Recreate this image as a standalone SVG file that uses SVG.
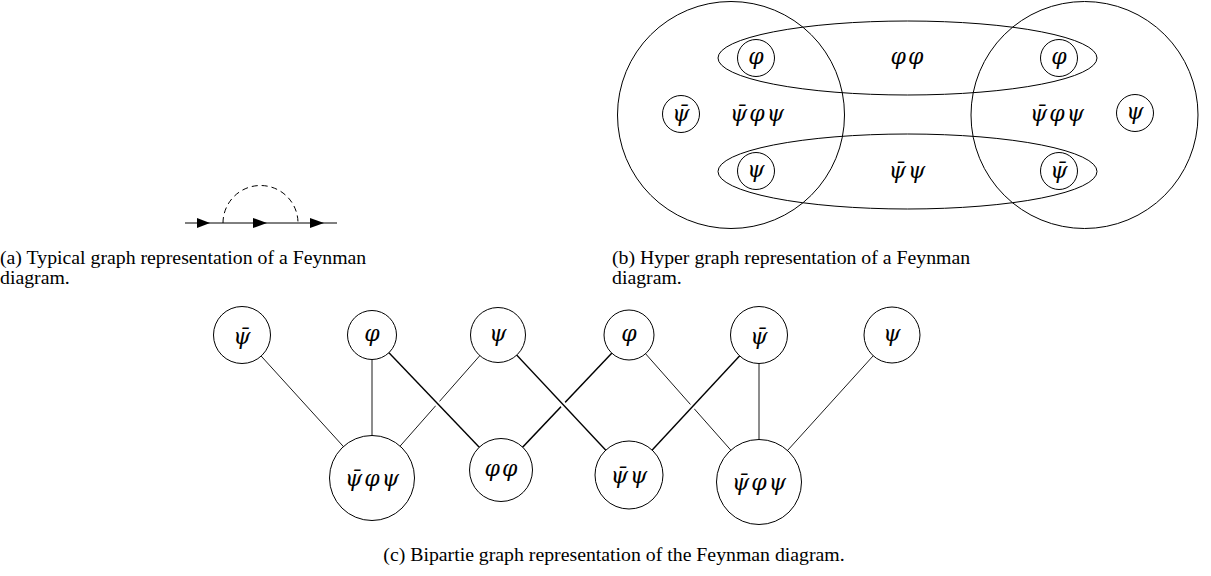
<svg xmlns="http://www.w3.org/2000/svg" width="1211" height="576" viewBox="0 0 1211 576">
<style>
.bg{fill:#fff}
.c{fill:#fff;stroke:#000;stroke-width:1}
.h{fill:none;stroke:#000;stroke-width:1}
.m{font-family:"DejaVu Serif","Liberation Serif",serif;font-style:italic;font-size:22px;text-anchor:middle;fill:#000}
.w{letter-spacing:2px}
.cap{font-family:"Liberation Serif","Times New Roman",serif;font-size:19.8px;fill:#000}
.thin{stroke:#000;stroke-width:0.9}
.thick{stroke:#000;stroke-width:1.4}
.halo{stroke:#fff;stroke-width:6}
</style>
<rect class="bg" x="0" y="0" width="1211" height="576"/>

<!-- (a) Feynman graph -->
<g id="feynman">
  <path d="M223,223 A37.5,37.5 0 0 1 298,223" fill="none" stroke="#000" stroke-width="1" stroke-dasharray="6 4"/>
  <line x1="185" y1="223" x2="337" y2="223" stroke="#000" stroke-width="1"/>
  <polygon points="197,218 210,223 197,228" fill="#000"/>
  <polygon points="253,218 267,223 253,228" fill="#000"/>
  <polygon points="310,218 324,223 310,228" fill="#000"/>
</g>
<text class="cap" x="0" y="264">(a) Typical graph representation of a Feynman</text>
<text class="cap" x="0" y="284">diagram.</text>

<!-- (b) Hypergraph -->
<g id="hyper-edges">
  <circle class="h" cx="731" cy="115" r="113.5"/>
  <circle class="h" cx="1084.5" cy="115" r="113.5"/>
  <ellipse class="h" cx="907.5" cy="58" rx="189.5" ry="37"/>
  <ellipse class="h" cx="907.5" cy="171.5" rx="189.5" ry="37.5"/>
</g>
<g id="h-psibar-left"><circle class="h" cx="681" cy="114" r="18.5"/><text class="m" x="681" y="121">ψ̄</text></g>
<g id="h-phi-tl"><circle class="h" cx="756" cy="58" r="18.5"/><text class="m" x="756" y="64">φ</text></g>
<g id="h-psi-bl"><circle class="h" cx="756" cy="171" r="18.5"/><text class="m" x="756" y="177">ψ</text></g>
<g id="h-phi-tr"><circle class="h" cx="1059" cy="58" r="18.5"/><text class="m" x="1059" y="64">φ</text></g>
<g id="h-psibar-br"><circle class="h" cx="1059" cy="171" r="18.5"/><text class="m" x="1059" y="178">ψ̄</text></g>
<g id="h-psi-right"><circle class="h" cx="1135" cy="113" r="18.5"/><text class="m" x="1135" y="119">ψ</text></g>
<text class="m w" x="758" y="121">ψ̄φψ</text>
<text class="m w" x="1058" y="121">ψ̄φψ</text>
<text class="m w" x="908" y="64">φφ</text>
<text class="m w" x="908" y="178">ψ̄ψ</text>
<text class="cap" x="612" y="264">(b) Hyper graph representation of a Feynman</text>
<text class="cap" x="612" y="284">diagram.</text>

<!-- (c) Bipartite graph -->
<g id="connectors">
  <line class="thin" x1="242" y1="335" x2="372" y2="478"/>
  <line class="thin" x1="372" y1="335" x2="372" y2="478"/>
  <line class="thin" x1="498" y1="335" x2="372" y2="478"/>
  <line class="thick" x1="629" y1="335" x2="501" y2="470"/>
  <line class="thin" x1="629" y1="335" x2="759" y2="482"/>
  <line class="thin" x1="759" y1="335" x2="759" y2="482"/>
  <line class="thin" x1="892" y1="335" x2="759" y2="482"/>
  <line class="halo" x1="372" y1="335" x2="501" y2="470"/>
  <line class="thick" x1="372" y1="335" x2="501" y2="470"/>
  <line class="halo" x1="498" y1="335" x2="629" y2="475"/>
  <line class="thick" x1="498" y1="335" x2="629" y2="475"/>
  <line class="halo" x1="759" y1="335" x2="629" y2="475"/>
  <line class="thick" x1="759" y1="335" x2="629" y2="475"/>
</g>
<g id="t-psibar1"><circle class="c" cx="242" cy="335" r="28.5"/><text class="m" x="242" y="344">ψ̄</text></g>
<g id="t-phi1"><circle class="c" cx="372" cy="335" r="24.5"/><text class="m" x="372" y="341">φ</text></g>
<g id="t-psi1"><circle class="c" cx="498" cy="335" r="27.5"/><text class="m" x="498" y="341">ψ</text></g>
<g id="t-phi2"><circle class="c" cx="629" cy="335" r="25"/><text class="m" x="629" y="341">φ</text></g>
<g id="t-psibar2"><circle class="c" cx="759" cy="335" r="28.5"/><text class="m" x="759" y="344">ψ̄</text></g>
<g id="t-psi2"><circle class="c" cx="892" cy="335" r="28"/><text class="m" x="892" y="341">ψ</text></g>
<g id="b-vertex1"><circle class="c" cx="372" cy="478" r="42.5"/><text class="m w" x="373" y="486">ψ̄φψ</text></g>
<g id="b-phiphi"><circle class="c" cx="501" cy="470" r="31.5"/><text class="m w" x="502" y="476">φφ</text></g>
<g id="b-psibarpsi"><circle class="c" cx="629" cy="475" r="34"/><text class="m w" x="630" y="483">ψ̄ψ</text></g>
<g id="b-vertex2"><circle class="c" cx="759" cy="482" r="42.5"/><text class="m w" x="760" y="490">ψ̄φψ</text></g>
<text class="cap" x="614" y="561" text-anchor="middle">(c) Bipartie graph representation of the Feynman diagram.</text>
</svg>
